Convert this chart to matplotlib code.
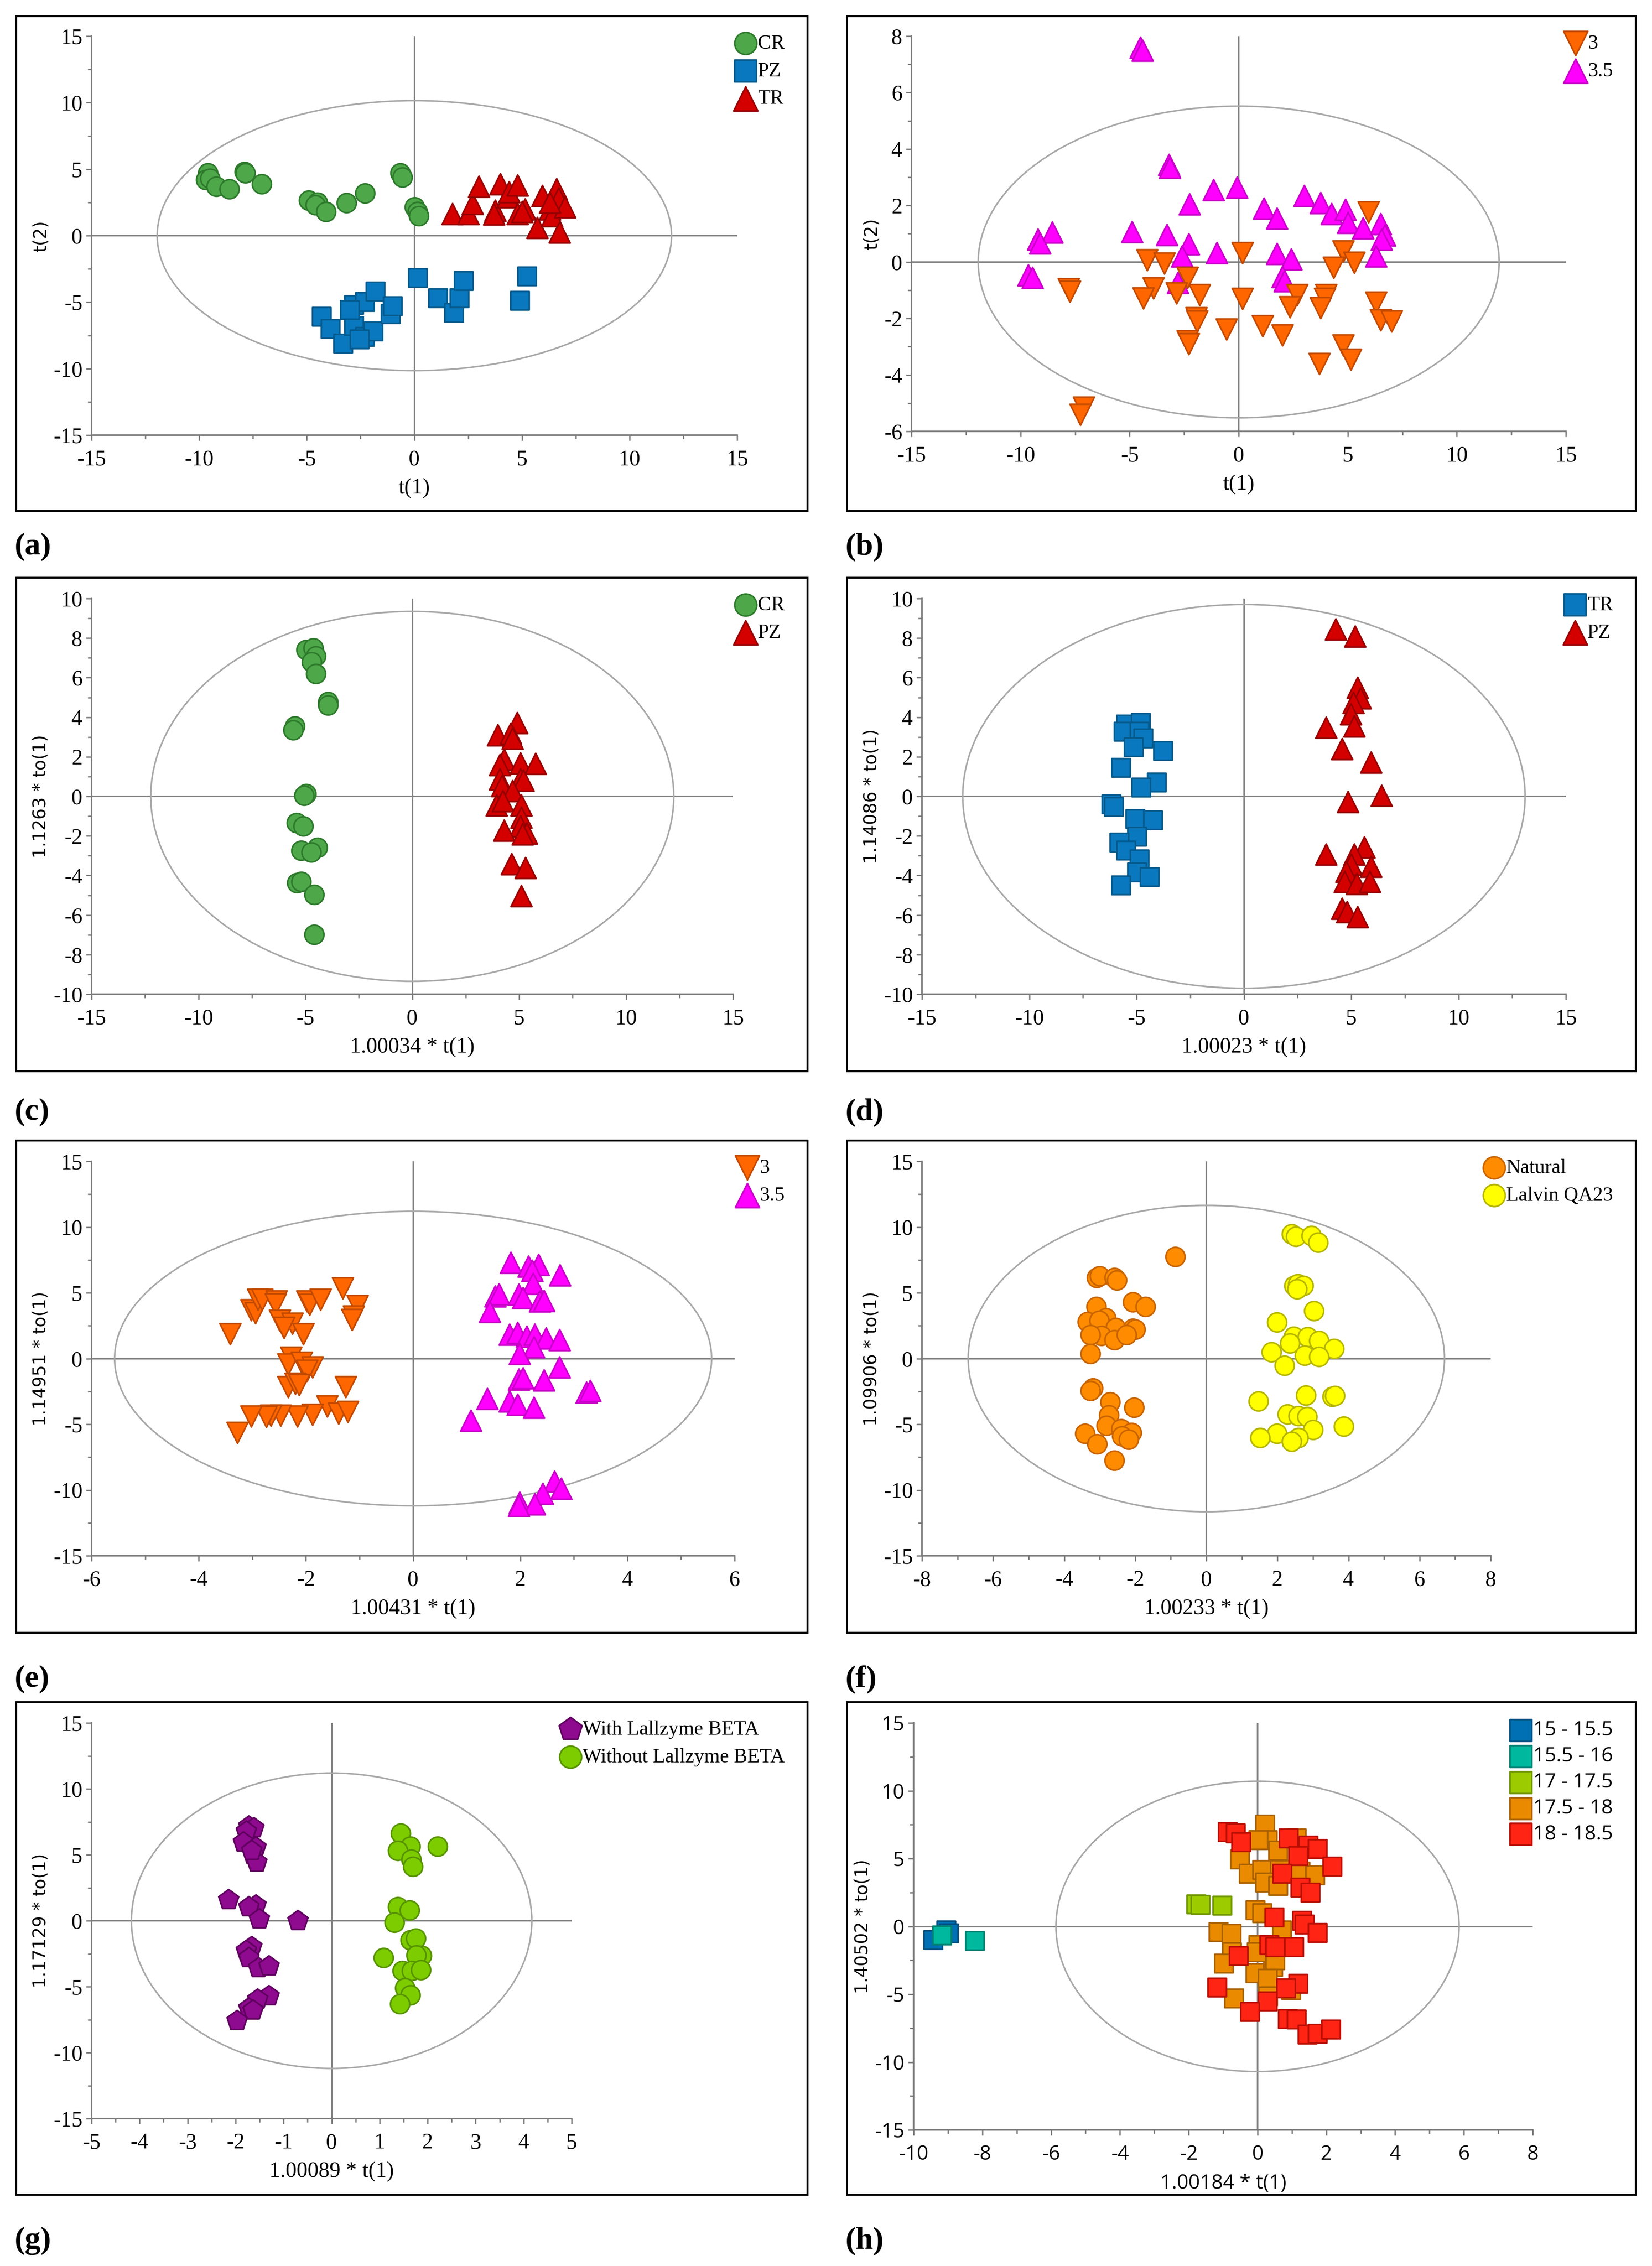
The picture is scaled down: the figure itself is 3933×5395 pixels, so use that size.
import matplotlib
matplotlib.use("Agg")
import matplotlib.pyplot as plt
from matplotlib.patches import Ellipse, Rectangle
from matplotlib.ticker import MultipleLocator

plt.rcParams['axes.unicode_minus'] = False
plt.rcParams['font.family'] = ['Liberation Serif', 'DejaVu Serif']

W, H = 3933, 5395
DPI = 300

SERIF = 'Liberation Serif'
SANS = 'DejaVu Sans'
SANS_H = 'Open Sans'

# ---------------- data ----------------
# (a) PCA t(1)/t(2) by area
a_cr_x = [-9.6, -9.7, -9.5, -9.2, -8.6, -7.9, -7.85, -7.1, -4.9, -4.5, -4.6, -4.1, -3.15, -2.3, -0.65, -0.55, 0.0, 0.15, 0.2]
a_cr_y = [4.7, 4.2, 4.3, 3.7, 3.5, 4.8, 4.7, 3.9, 2.65, 2.5, 2.3, 1.8, 2.45, 3.2, 4.7, 4.4, 2.15, 1.8, 1.5]
a_pz_x = [-4.3, -3.9, -3.3, -2.8, -2.8, -2.3, -2.3, -1.9, -1.8, -1.1, -1.0, 0.17, 1.1, 1.85, 2.1, 2.3, 4.9, 5.25, -2.55, -3.0]
a_pz_y = [-6.1, -7.0, -8.1, -6.8, -5.2, -5.0, -7.6, -7.2, -4.2, -5.9, -5.3, -3.2, -4.7, -5.8, -4.7, -3.4, -4.9, -3.05, -7.8, -5.6]
a_tr_x = [1.77, 2.5, 2.7, 3.0, 3.75, 4.0, 4.35, 4.4, 4.8, 4.8, 5.15, 5.7, 5.95, 6.3, 6.4, 6.6, 6.7, 7.0, 6.75, 6.3, 3.7, 5.0]
a_tr_y = [1.65, 1.65, 2.4, 3.7, 1.9, 3.9, 2.9, 3.3, 3.8, 1.65, 2.0, 0.6, 3.0, 2.0, 1.5, 3.5, 2.8, 2.15, 0.25, 2.5, 1.6, 1.8]

# (b) PCA by pH
b_35_x = [-4.5, -4.4, -3.2, -3.15, -1.15, -0.07, -2.25, 3.0, 3.75, 1.15, 1.75, 4.25, 4.9, 5.0, 5.7, 6.5, 6.7, 6.55, -4.9, -3.3,
          -8.55, -9.2, -9.1, -2.3, -2.6, -1.0, 1.75, 2.4, 6.3, -9.65, -9.45, -2.8, 2.0, 2.1]
b_35_y = [7.6, 7.5, 3.45, 3.35, 2.55, 2.65, 2.05, 2.35, 2.1, 1.9, 1.55, 1.7, 1.85, 1.4, 1.2, 1.35, 0.95, 0.8, 1.07, 0.97,
          1.05, 0.8, 0.67, 0.63, 0.2, 0.33, 0.3, 0.1, 0.2, -0.47, -0.56, -0.74, -0.52, -0.68]
b_3_x = [5.95, 4.8, 0.17, -4.2, -3.4, 5.3, 4.35, -2.35, -3.9, -7.8, -7.75, -4.37, -2.85, -1.8, 0.17, 2.67, 4.0, 3.95, 2.35, 3.75,
         6.3, -1.94, -1.9, 6.5, 7.0, -0.56, 1.1, 2.0, -2.35, -2.3, 4.8, 5.15, 3.7, -7.1, -7.25]
b_3_y = [1.76, 0.39, 0.33, 0.07, -0.05, -0.02, -0.2, -0.56, -0.92, -0.95, -1.05, -1.28, -1.1, -1.16, -1.3, -1.16, -1.16, -1.3, -1.6, -1.63,
         -1.43, -1.99, -2.1, -2.05, -2.1, -2.38, -2.27, -2.6, -2.8, -2.9, -2.95, -3.46, -3.6, -5.15, -5.4]

# (c) OPLS-DA CR vs PZ
c_cr_x = [-4.97, -4.63, -4.5, -4.7, -4.5, -3.93, -3.93, -5.5, -5.57, -4.97, -5.05, -5.42, -5.1, -4.43, -5.2, -4.73, -5.4, -5.2, -4.58, -4.58]
c_cr_y = [7.4, 7.5, 7.1, 6.8, 6.2, 4.78, 4.6, 3.54, 3.36, 0.12, 0.05, -1.33, -1.5, -2.6, -2.74, -2.83, -4.37, -4.3, -4.96, -6.99]
c_pz_x = [4.9, 3.99, 4.6, 4.68, 4.3, 4.1, 5.05, 5.77, 4.1, 4.2, 5.05, 5.2, 4.68, 3.94, 4.23, 5.1, 5.1, 5.05, 4.3, 5.35, 5.15, 4.65, 5.3, 5.1]
c_pz_y = [3.72, 3.1, 3.19, 2.92, 1.86, 1.6, 1.68, 1.65, 0.88, 0.53, 0.88, 0.8, 0.27, -0.44, -0.23, -0.44, -1.06, -1.5, -1.72, -1.86, -1.91, -3.42, -3.6, -5.04]

# (d) OPLS-DA TR vs PZ
d_tr_x = [-5.48, -4.81, -5.6, -4.86, -4.69, -5.13, -3.77, -5.72, -4.07, -4.79, -6.17, -6.05, -5.06, -4.24, -4.98, -5.8, -5.48, -4.86, -4.98, -4.39, -5.72]
d_tr_y = [3.63, 3.72, 3.27, 3.27, 2.92, 2.48, 2.3, 1.45, 0.71, 0.44, -0.41, -0.53, -1.15, -1.2, -2.04, -2.34, -2.74, -3.19, -3.84, -4.07, -4.51]
d_pz_x = [4.27, 5.18, 5.3, 5.43, 5.1, 4.98, 3.82, 5.13, 4.56, 5.92, 6.41, 4.84, 5.6, 3.82, 5.13, 5.0, 5.92, 4.76, 4.69, 5.26, 5.87, 4.56, 4.81, 5.3]
d_pz_y = [8.44, 8.09, 5.49, 4.96, 4.73, 4.16, 3.49, 3.54, 2.39, 1.72, 0.05, -0.27, -2.57, -2.92, -2.92, -3.45, -3.54, -3.8, -4.3, -4.42, -4.3, -5.66, -5.84, -6.1]

# (e) OPLS-DA pH 3 vs 3.5
e_3_x = [-3.41, -3.02, -2.94, -2.9, -2.82, -2.55, -2.57, -2.49, -2.25, -2.41, -2.05, -2.28, -2.33, -2.08, -1.88, -1.98, -1.98, -1.93, -1.73, -1.31,
         -1.04, -1.11, -1.14, -1.26, -2.33, -2.2, -2.13, -1.6, -1.39, -1.22, -1.88, -2.16, -2.47, -2.65, -2.74, -3.02, -3.28]
e_3_y = [1.88, 3.69, 3.47, 4.48, 4.48, 4.35, 4.14, 2.89, 2.68, 2.36, 1.88, 0.09, -0.44, -0.31, -0.65, -0.92, 4.35, 4.09, 4.48, 5.34,
         4.01, 3.21, 2.95, -2.17, -2.17, -1.9, -2.0, -3.63, -4.17, -4.03, -4.25, -4.38, -4.33, -4.33, -4.43, -4.38, -5.63]
e_35_x = [1.82, 2.15, 2.34, 2.22, 2.74, 2.24, 1.53, 1.6, 1.97, 2.05, 2.36, 2.44, 1.43, 1.8, 1.95, 2.12, 2.27, 2.48, 2.73, 2.25,
          1.99, 2.73, 1.97, 2.05, 2.44, 3.23, 3.3, 1.38, 1.8, 1.95, 2.25, 1.08, 2.64, 2.76, 2.42, 1.99, 2.27, 1.97]
e_35_y = [7.29, 7.02, 7.15, 6.7, 6.35, 5.69, 4.75, 4.9, 4.88, 4.62, 4.35, 4.4, 3.56, 1.83, 1.96, 1.69, 1.83, 1.56, 1.43, 0.89,
          0.36, -0.65, -1.58, -1.5, -1.64, -2.57, -2.44, -3.05, -3.24, -3.5, -3.71, -4.7, -9.35, -9.88, -10.28, -10.95, -11.08, -11.2]

# (f) OPLS-DA yeast
f_nat_x = [-0.88, -3.08, -3.0, -2.59, -2.52, -2.07, -1.71, -3.1, -2.82, -3.34, -3.01, -2.55, -2.07, -2.0, -2.96, -3.26, -2.59, -2.25, -3.26, -3.19,
           -3.26, -2.71, -2.03, -2.74, -2.81, -2.4, -2.1, -3.41, -2.37, -2.19, -3.07, -2.59]
f_nat_y = [7.76, 6.16, 6.27, 6.14, 5.95, 4.3, 3.96, 3.96, 3.08, 2.81, 2.89, 2.36, 2.28, 2.22, 1.74, 1.82, 1.42, 1.82, 0.36, -2.25,
           -2.44, -3.31, -3.71, -4.3, -5.1, -5.36, -5.63, -5.71, -5.9, -6.16, -6.51, -7.76]
f_qa_x = [2.4, 2.52, 2.96, 3.14, 2.47, 2.58, 2.73, 2.55, 3.02, 1.98, 2.46, 2.85, 3.17, 2.35, 3.59, 1.83, 2.77, 3.17, 2.2, 1.46,
          3.55, 3.62, 2.8, 2.28, 2.59, 2.84, 3.86, 3.0, 1.98, 1.51, 2.59, 2.4]
f_qa_y = [9.47, 9.28, 9.36, 8.83, 5.55, 5.68, 5.55, 5.28, 3.63, 2.76, 1.69, 1.64, 1.37, 1.16, 0.76, 0.49, 0.23, 0.15, -0.52, -3.23,
          -2.89, -2.84, -2.78, -4.22, -4.35, -4.43, -5.15, -5.41, -5.7, -6.03, -6.03, -6.3]

# (g) OPLS-DA enzyme
g_with_x = [-1.73, -1.62, -1.78, -1.84, -1.58, -1.64, -1.56, -1.67, -2.15, -1.58, -1.73, -1.51, -0.7, -1.67, -1.78, -1.73, -1.53, -1.31, -1.31, -1.54, -1.73, -1.64, -1.97]
g_with_y = [7.17, 7.03, 6.77, 5.97, 5.57, 5.04, 4.43, 5.31, 1.59, 1.19, 1.06, 0.13, 0.0, -1.99, -2.26, -2.79, -3.58, -3.45, -5.71, -5.97, -6.64, -6.77, -7.57]
g_without_x = [1.44, 2.21, 1.64, 1.38, 1.66, 1.69, 1.38, 1.62, 1.31, 1.64, 1.75, 1.08, 1.88, 1.76, 1.47, 1.67, 1.86, 1.53, 1.64, 1.42]
g_without_y = [6.64, 5.63, 5.63, 5.31, 4.65, 4.11, 1.06, 0.8, -0.13, -1.46, -1.33, -2.79, -2.65, -2.6, -3.8, -3.8, -3.72, -5.1, -5.63, -6.29]

# (h) OPLS by alcohol range
h_a_x = [-9.43, -9.05, -8.98]
h_a_y = [-1.0, -0.3, -0.5]
h_b_x = [-9.17, -8.22]
h_b_y = [-0.67, -1.08]
h_c_x = [-1.78, -1.66, -1.02]
h_c_y = [1.63, 1.58, 1.52]
h_d_x = [0.22, 0.29, 0.03, 0.6, 1.14, -0.51, -0.25, 0.14, 0.65, 0.22, 0.6, 1.25, 1.68, -0.06, 0.14, -1.14, -0.75, 0.71, 0.03, -0.74,
         -0.98, -0.06, 0.45, 0.52, 0.29, -0.68, 0.31, 0.98, -0.02]
h_d_y = [7.51, 6.35, 6.35, 5.58, 6.48, 4.93, 3.9, 4.16, 4.16, 3.25, 3.0, 4.03, 3.77, 1.19, 0.98, -0.41, -0.54, -0.28, -1.39, -1.91,
         -2.74, -3.46, -3.0, -2.48, -3.85, -5.32, -5.14, -4.7, -1.91]
h_e_x = [-0.86, -0.63, -0.48, 0.91, 1.48, 1.75, 1.18, 2.18, 0.72, 1.25, 1.54, 0.49, 1.29, 1.37, 1.75, 0.34, 0.52, 1.06, -0.55, -1.17,
         1.18, 0.83, 0.29, -0.22, 0.88, 1.14, 1.45, 1.75, 2.14]
h_e_y = [6.95, 6.87, 6.22, 6.48, 5.96, 5.71, 5.19, 4.42, 3.9, 2.87, 2.48, 0.67, 0.41, 0.15, -0.49, -1.39, -1.52, -1.52, -2.17, -4.49,
         -4.23, -4.57, -5.53, -6.3, -6.82, -6.87, -7.98, -7.9, -7.59]

# colours (face, edge)
GREEN = ('#4ea84a', '#2e7a2c')
BLUE = ('#0a78be', '#055a8c')
RED = ('#d40000', '#960000')
ORANGE = ('#ff6600', '#c24a00')
MAGENTA = ('#ff00ff', '#c800c8')
NAT = ('#ff8c00', '#c86400')
YELLOW = ('#ffff00', '#b5b500')
PURPLE = ('#8e0a8e', '#5e005e')
LGREEN = ('#7ccc00', '#579200')
H_COL = [('#0070b4', '#004f80'), ('#00b89e', '#008070'), ('#9ccc00', '#6f9400'),
         ('#e98a00', '#a86000'), ('#ff2414', '#b80e04')]

fig = plt.figure(figsize=(W / DPI, H / DPI), dpi=DPI)


def rect(x0, x1, y0, y1):
    return [x0 / W, 1 - y1 / H, (x1 - x0) / W, (y1 - y0) / H]


def panel(axpx, boxpx, xlim, ylim, xt, yt, ell, xlabel, ylabel, groups, tag, tag_y,
          legend_order=None, sans_ticks=False, square_legend=False):
    ax = fig.add_axes(rect(*axpx))
    fig.add_artist(Rectangle((boxpx[0] / W, 1 - boxpx[3] / H), (boxpx[1] - boxpx[0]) / W,
                             (boxpx[3] - boxpx[2]) / H, transform=fig.transFigure,
                             fill=False, ec='black', lw=1.1))
    ax.set_xlim(*xlim)
    ax.set_ylim(*ylim)
    ax.axhline(0, color='#808080', lw=0.9, zorder=1)
    ax.axvline(0, color='#808080', lw=0.9, zorder=1)
    ax.add_patch(Ellipse((0, 0), 2 * ell[0], 2 * ell[1], fill=False, ec='#a8a8a8', lw=0.9, zorder=1))
    handles = []
    for x, y, lab, mk, col, s in groups:
        h = ax.scatter(x, y, s=s, marker=mk, facecolor=col[0], edgecolor=col[1], linewidth=0.9,
                       zorder=3, label=lab, clip_on=False)
        handles.append(h)
    for side in ['top', 'right']:
        ax.spines[side].set_visible(False)
    for side in ['left', 'bottom']:
        ax.spines[side].set_color('#7a7a7a')
        ax.spines[side].set_linewidth(0.9)
    ax.xaxis.set_major_locator(MultipleLocator(xt[0]))
    ax.xaxis.set_minor_locator(MultipleLocator(xt[1]))
    ax.yaxis.set_major_locator(MultipleLocator(yt[0]))
    ax.yaxis.set_minor_locator(MultipleLocator(yt[1]))
    tfam = SANS_H if sans_ticks else SERIF
    tsize = 11.5 if sans_ticks else 12.5
    ax.tick_params(which='both', direction='out', color='#7a7a7a', width=0.8,
                   labelfontfamily=tfam, labelsize=tsize)
    ax.tick_params(which='major', length=3.2)
    ax.tick_params(which='minor', length=2.2)
    ax.tick_params(axis='x', pad=5)
    ax.tick_params(axis='y', pad=2)
    ax.set_xlabel(xlabel, fontfamily=tfam, fontsize=tsize, labelpad=5)
    ax.set_ylabel(ylabel, fontfamily=SANS, fontsize=10, labelpad=2)
    if legend_order is not None:
        handles = [handles[i] for i in legend_order]
    lx = (boxpx[1] - 30) / W
    ly = 1 - (boxpx[2] + 20) / H
    ax.legend(handles=handles, loc='upper right', bbox_to_anchor=(lx, ly), bbox_transform=fig.transFigure,
              frameon=False, borderpad=0, handletextpad=0.1, labelspacing=0.45 if not square_legend else 0.3,
              handlelength=1.0, markerscale=1.15, scatterpoints=1,
              prop={'family': SANS_H if square_legend else SERIF, 'size': 11.5})
    fig.text((boxpx[0] - 3) / W, 1 - tag_y / H, tag, fontfamily=SERIF, fontsize=18, fontweight='bold',
             va='center', ha='left')
    return ax


CIRC, SQ, TRI = 120, 115, 145

panel((218, 1755, 86, 1036), (38, 1922, 38, 1216), (-15, 15), (-15, 15), (5, 2.5), (5, 2.5), (11.95, 10.15),
      't(1)', 't(2)',
      [(a_cr_x, a_cr_y, 'CR', 'o', GREEN, CIRC),
       (a_pz_x, a_pz_y, 'PZ', 's', BLUE, SQ),
       (a_tr_x, a_tr_y, 'TR', '^', RED, TRI)], '(a)', 1302)

panel((2170, 3728, 86, 1027), (2016, 3894, 38, 1216), (-15, 15), (-6, 8), (5, 2.5), (2, 1), (11.94, 5.52),
      't(1)', 't(2)',
      [(b_35_x, b_35_y, '3.5', '^', MAGENTA, TRI),
       (b_3_x, b_3_y, '3', 'v', ORANGE, TRI)], '(b)', 1302, legend_order=[1, 0])

panel((218, 1745, 1425, 2367), (38, 1922, 1375, 2550), (-15, 15), (-10, 10), (5, 2.5), (2, 1), (12.23, 9.35),
      '1.00034 * t(1)', '1.1263 * to(1)',
      [(c_cr_x, c_cr_y, 'CR', 'o', GREEN, CIRC),
       (c_pz_x, c_pz_y, 'PZ', '^', RED, TRI)], '(c)', 2648)

panel((2195, 3728, 1425, 2367), (2016, 3894, 1375, 2550), (-15, 15), (-10, 10), (5, 2.5), (2, 1), (13.1, 9.7),
      '1.00023 * t(1)', '1.14086 * to(1)',
      [(d_tr_x, d_tr_y, 'TR', 's', BLUE, SQ),
       (d_pz_x, d_pz_y, 'PZ', '^', RED, TRI)], '(d)', 2648)

panel((218, 1749, 2765, 3704), (38, 1922, 2715, 3887), (-6, 6), (-15, 15), (2, 1), (5, 2.5), (5.57, 11.2),
      '1.00431 * t(1)', '1.14951 * to(1)',
      [(e_3_x, e_3_y, '3', 'v', ORANGE, TRI),
       (e_35_x, e_35_y, '3.5', '^', MAGENTA, TRI)], '(e)', 3998)

panel((2195, 3549, 2765, 3704), (2016, 3894, 2715, 3887), (-8, 8), (-15, 15), (2, 1), (5, 2.5), (6.7, 11.65),
      '1.00233 * t(1)', '1.09906 * to(1)',
      [(f_nat_x, f_nat_y, 'Natural', 'o', NAT, CIRC),
       (f_qa_x, f_qa_y, 'Lalvin QA23', 'o', YELLOW, CIRC)], '(f)', 3998)

panel((218, 1361, 4102, 5044), (38, 1922, 4052, 5225), (-5, 5), (-15, 15), (1, 0.5), (5, 2.5), (4.17, 11.2),
      '1.00089 * t(1)', '1.17129 * to(1)',
      [(g_with_x, g_with_y, 'With Lallzyme BETA', 'p', PURPLE, 145),
       (g_without_x, g_without_y, 'Without Lallzyme BETA', 'o', LGREEN, CIRC)], '(g)', 5335)

panel((2175, 3649, 4102, 5071), (2016, 3894, 4052, 5225), (-10, 8), (-15, 15), (2, 1), (5, 2.5), (5.86, 10.7),
      '1.00184 * t(1)', '1.40502 * to(1)',
      [(h_a_x, h_a_y, '15 - 15.5', 's', H_COL[0], SQ),
       (h_b_x, h_b_y, '15.5 - 16', 's', H_COL[1], SQ),
       (h_c_x, h_c_y, '17 - 17.5', 's', H_COL[2], SQ),
       (h_d_x, h_d_y, '17.5 - 18', 's', H_COL[3], SQ),
       (h_e_x, h_e_y, '18 - 18.5', 's', H_COL[4], SQ)], '(h)', 5335,
      sans_ticks=True, square_legend=True)

fig.savefig('out.png', dpi=DPI)
